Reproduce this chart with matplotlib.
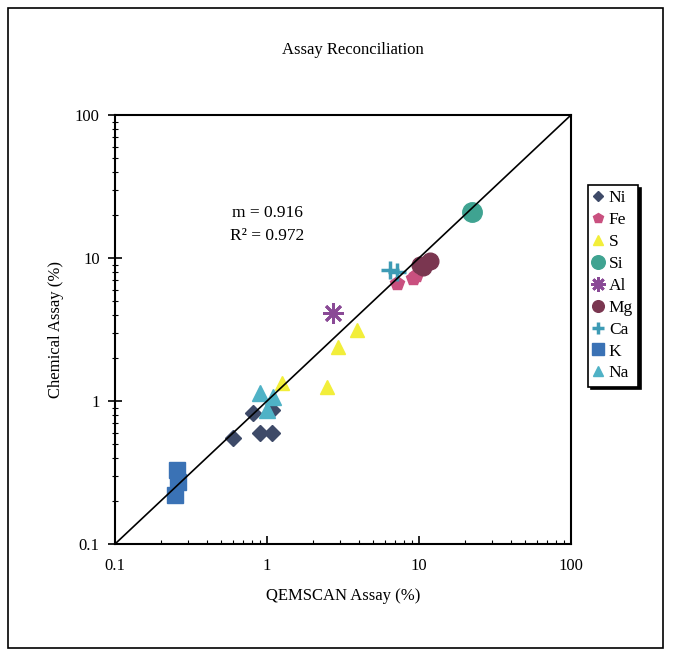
import matplotlib
matplotlib.use("Agg")
import matplotlib.pyplot as plt
from matplotlib.patches import Rectangle

plt.rcParams['font.family'] = ['Liberation Serif', 'DejaVu Serif']

elements = ["Ni", "Fe", "S", "Si", "Al", "Mg", "Ca", "K", "Na"]
qemscan = {
    "Ni": [0.60, 1.08, 0.81, 1.08, 0.90],
    "Fe": [7.2, 9.1, 9.6],
    "S": [1.26, 2.48, 2.93, 3.9],
    "Si": [22.3],
    "Al": [2.72],
    "Mg": [10.6, 11.8, 10.2],
    "Ca": [6.45, 7.2],
    "K": [0.256, 0.248, 0.26],
    "Na": [0.90, 1.0, 1.1],
}
chemical = {
    "Ni": [0.55, 0.60, 0.82, 0.865, 0.60],
    "Fe": [6.7, 7.3, 7.6],
    "S": [1.34, 1.25, 2.39, 3.14],
    "Si": [21.0],
    "Al": [4.12],
    "Mg": [8.65, 9.6, 9.0],
    "Ca": [8.2, 8.0],
    "K": [0.33, 0.22, 0.27],
    "Na": [1.14, 0.865, 1.06],
}
colors = {
    "Ni": "#3e4a68", "Fe": "#c9507f", "S": "#f2ee3a", "Si": "#3fa391",
    "Al": "#8a4a96", "Mg": "#7a3650", "Ca": "#3d9bb5", "K": "#3a72b5",
    "Na": "#4fb2c6",
}
markers = {
    "Ni": "D", "Fe": "p", "S": "^", "Si": "o", "Al": (8, 2, 0), "Mg": "o",
    "Ca": "+", "K": "s", "Na": "^",
}
sizes = {
    "Ni": 8, "Fe": 10, "S": 10, "Si": 14, "Al": 15, "Mg": 12,
    "Ca": 13, "K": 12, "Na": 11,
}
fit_text = ["m = 0.916", "R² = 0.972"]
line_x = [0.1, 100]

fig = plt.figure(figsize=(6.76, 6.53), dpi=100)
ax = fig.add_axes([115/676, 1-544/653, 456/676, 429/653])

for el in elements:
    kw = dict(linestyle='none', marker=markers[el], color=colors[el],
              markersize=sizes[el], label=el)
    if markers[el] == '+':
        kw['markeredgewidth'] = 2.5
    if el == "Al":
        kw['markeredgewidth'] = 2
    ax.plot(qemscan[el], chemical[el], **kw)

ax.plot(line_x, line_x, color='black', lw=1.2, zorder=5)

ax.set_xscale('log')
ax.set_yscale('log')
ax.set_xlim(0.1, 100)
ax.set_ylim(0.1, 100)
ax.set_xticks([0.1, 1, 10, 100])
ax.set_xticklabels(["0.1", "1", "10", "100"])
ax.set_yticks([0.1, 1, 10, 100])
ax.set_yticklabels(["0.1", "1", "10", "100"])
ax.tick_params(axis='x', which='major', direction='in', length=6, width=1.2, labelsize=12, pad=10)
ax.tick_params(axis='x', which='minor', direction='in', length=3, width=0.8)
ax.tick_params(axis='y', which='major', direction='inout', length=10, width=1.2, labelsize=12, pad=6)
ax.tick_params(axis='y', which='minor', direction='inout', length=5, width=0.8)
for s in ax.spines.values():
    s.set_linewidth(1.5)

ax.set_xlabel("QEMSCAN Assay (%)", fontsize=12, labelpad=10)
ax.set_ylabel("Chemical Assay (%)", fontsize=12, labelpad=8)

fig.text(267/676, 1-213/653, fit_text[0], ha='center', va='center', fontsize=12.5)
fig.text(267/676, 1-236/653, fit_text[1], ha='center', va='center', fontsize=12.5)

fig.text(353/676, 1-50/653, "Assay Reconciliation", ha='center', va='center', fontsize=12)

leg = fig.legend(loc='upper left', bbox_to_anchor=(588/676, 1-185/653),
                 frameon=True, fancybox=False, shadow={'color': 'black', 'alpha': 1},
                 fontsize=12.5, handlelength=0.6, handletextpad=0.3,
                 labelspacing=0.33, borderpad=0.3, markerscale=0.7,
                 borderaxespad=0)
leg.get_frame().set_edgecolor('black')
leg.get_frame().set_linewidth(1.2)

fig.patches.append(Rectangle((8/676, 1-648/653), 655/676, 640/653,
                             transform=fig.transFigure, fill=False,
                             edgecolor='black', lw=1.2))

fig.savefig("out.png", dpi=100)
